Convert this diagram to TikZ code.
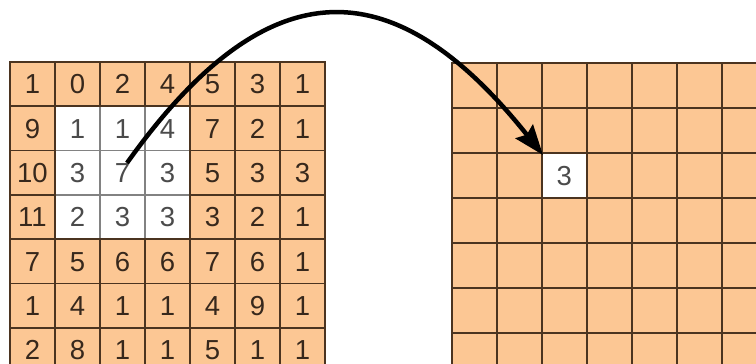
\documentclass[tikz,border=0pt]{standalone}
\usepackage{fontspec}
\setmainfont{Liberation Sans}
\usetikzlibrary{arrows.meta}
\definecolor{cellfill}{RGB}{252,199,148}
\definecolor{gridline}{RGB}{75,52,32}
\definecolor{darktext}{RGB}{55,40,28}
\definecolor{graytext}{RGB}{75,75,75}
\definecolor{lightline}{RGB}{130,130,130}
\begin{document}
\begin{tikzpicture}[x=1pt,y=-1pt,
  cellbox/.style={draw=gridline, line width=1.7pt, fill=cellfill},
  wcellbox/.style={draw=lightline, line width=1.7pt, fill=white},
  celltext/.style={inner sep=0pt, text=darktext, text height=19.5pt, text depth=0pt,
    font=\fontsize{27.5}{30}\selectfont},
  wcelltext/.style={celltext, text=graytext},
  rcell/.style={draw=gridline, line width=1.7pt, fill=cellfill, minimum width=45pt,
    minimum height=45pt, inner sep=0pt, anchor=north west},
  rwcell/.style={rcell, fill=white, text=graytext, text height=19.5pt, text depth=0pt,
    font=\fontsize{27.5}{30}\selectfont},
  arrowline/.style={line width=4.5pt, black,
    -{Stealth[length=30pt,width=22pt,inset=4pt]}}
]
\clip (0,0) rectangle (756,364);
\fill[white] (0,0) rectangle (756,364);
% left grid
\foreach \row [count=\r] in {{1,0,2,4,5,3,1},{9,1,1,4,7,2,1},{10,3,7,3,5,3,3},{11,2,3,3,3,2,1},{7,5,6,6,7,6,1},{1,4,1,1,4,9,1},{2,8,1,1,5,1,1}}{
  \foreach \v [count=\c] in \row {
    \pgfmathsetmacro\xx{10+45*(\c-1)}
    \pgfmathsetmacro\yy{62+44.3*(\r-1)}
    \pgfmathtruncatemacro\isw{and(and(\r>1,\r<5),and(\c>1,\c<5))}
    \ifnum\isw=1
      \path[wcellbox] (\xx,\yy) rectangle ++(45,44.3);
      \node[wcelltext] (L-\r-\c) at (\xx+22.5,\yy+22.15) {\v};
    \else
      \path[cellbox] (\xx,\yy) rectangle ++(45,44.3);
      \node[celltext] (L-\r-\c) at (\xx+22.5,\yy+22.15) {\v};
    \fi
  }
}
\draw[gridline, line width=1.7pt] (55,106.3) rectangle (190,239.2);
% right grid
\foreach \r in {1,...,7}{
  \foreach \c in {1,...,7}{
    \node[rcell] (R-\r-\c) at ({451+45*(\c-1)},{62+45*(\r-1)}) {};
  }
}
\node[rwcell] (R-3-3w) at (R-3-3.north west) {3};
% arrow
\coordinate (src) at (127,163);
\draw[arrowline] (src) .. controls (268,-35) and (394,-32) .. ([shift={(2,3)}]R-3-3.north west);
\end{tikzpicture}
\end{document}
